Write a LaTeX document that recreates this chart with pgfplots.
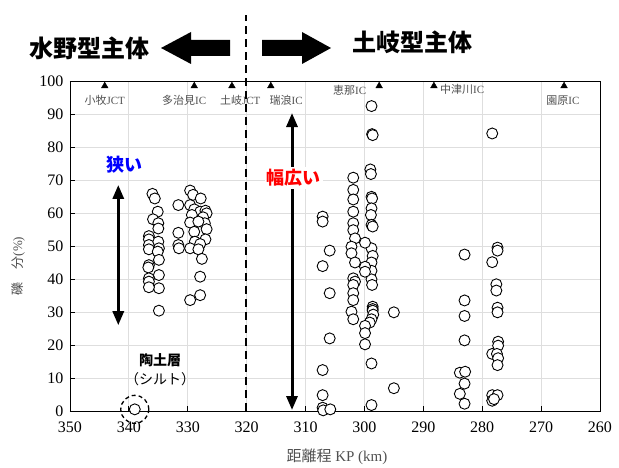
\documentclass[border=0pt]{standalone}
\usepackage{pgfplots}
\pgfplotsset{compat=1.18}
\usetikzlibrary{arrows.meta}
\usepackage{fontspec}
\setmainfont{Liberation Serif}
\newfontfamily\cjk{Noto Sans CJK JP}
\definecolor{lblgray}{RGB}{80,80,80}
\begin{document}
\begin{tikzpicture}
\path[use as bounding box] (0,0) rectangle (619pt,468pt);
\begin{axis}[at={(70pt,57pt)}, anchor=south west, scale only axis,
  width=530pt, height=330pt,
  xmin=260, xmax=350, x dir=reverse, ymin=0, ymax=100,
  xtick={260,270,...,350}, ytick={0,10,...,100},
  grid=major, major grid style={draw=black!13, line width=0.9pt},
  axis line style={line width=0.9pt},
  tick align=inside, xtick pos=bottom, ytick pos=left,
  major tick length=5pt, tick style={black, line width=0.8pt},
  ticklabel style={font=\fontsize{16}{16}\selectfont},
  xticklabel style={yshift=-7pt},
  yticklabel style={xshift=-3pt},
  /pgf/number format/assume math mode=true,
  clip=false]
\addplot[only marks, mark=*, mark size=5.5pt, mark options={fill=white, draw=black, line width=0.9pt}] table {
x y
336.0 65.8
335.6 64.4
335.1 60.4
335.9 58.1
335.0 56.9
335.0 55.3
336.6 53.0
336.6 52.0
336.6 50.3
336.6 49.0
335.0 51.3
334.9 49.3
335.1 48.3
334.9 45.8
336.6 44.2
336.7 43.5
334.9 41.2
336.6 40.2
336.6 39.2
334.9 37.2
336.6 37.5
334.9 30.4
329.6 66.8
329.1 65.5
327.8 64.4
331.6 62.4
329.6 62.4
328.9 61.1
327.9 60.4
327.0 60.7
326.8 59.9
329.3 59.4
327.4 58.7
329.6 57.1
327.1 56.9
328.2 57.4
326.8 55.1
328.9 54.3
331.6 54.0
327.0 52.0
328.8 51.3
327.9 50.6
331.6 50.3
331.5 49.3
329.6 49.3
328.2 49.0
327.6 46.1
327.9 40.7
327.9 35.1
329.6 33.6
307.1 58.9
307.1 57.4
305.9 48.6
307.1 43.9
305.9 35.7
305.9 22.0
307.1 12.4
307.1 4.8
307.1 1.0
307.0 0.2
305.8 0.5
301.9 70.7
301.9 67.0
301.9 64.1
301.9 60.4
301.9 56.9
301.9 54.8
301.6 52.3
302.2 49.8
302.2 47.8
301.6 45.0
301.9 40.2
301.6 39.2
301.9 38.2
301.9 35.7
301.9 33.6
302.2 30.1
301.9 27.8
298.8 92.4
298.7 83.9
298.6 83.6
299.0 73.2
298.9 71.8
298.8 64.9
298.7 64.4
298.8 61.4
298.9 59.4
298.8 56.4
298.6 55.9
298.8 49.3
298.6 47.0
298.8 45.0
298.8 42.5
298.8 39.9
298.7 38.2
298.6 31.6
298.6 30.9
298.6 30.4
298.5 29.2
298.8 27.8
299.1 26.8
299.9 25.8
299.9 23.6
299.9 20.2
298.8 14.4
298.8 1.8
299.9 51.0
299.9 43.7
299.9 42.2
295.0 29.9
295.0 6.9
283.0 47.4
283.0 33.5
283.0 28.8
283.0 21.4
283.8 11.6
282.9 11.9
283.0 8.3
283.8 5.2
283.0 2.2
278.3 84.1
277.4 49.5
277.4 48.6
278.3 45.1
277.6 38.4
277.6 36.5
277.4 31.3
277.4 29.9
277.3 21.0
277.3 19.8
278.3 17.3
277.5 17.3
277.3 16.0
277.4 13.9
278.3 4.8
277.4 4.8
278.3 3.1
278.0 3.6
339.0 0.5
};
\addplot[only marks, mark=triangle*, mark size=3.8pt, black] coordinates {
(344.1,98.5) (328.9,98.5) (322.5,98.5) (315.9,98.5) (297.5,98.5) (288.2,98.5) (266.1,98.5)};
\begin{scope}[every node/.style={text=lblgray, font=\fontsize{11}{11}\selectfont, inner sep=1pt}]
\node at (axis cs:344.1,94) {{\cjk 小牧}JCT};
\node at (axis cs:330.6,94) {{\cjk 多治見}IC};
\node at (axis cs:321.1,94) {{\cjk 土岐}JCT};
\node at (axis cs:313.3,94) {{\cjk 瑞浪}IC};
\node at (axis cs:302.5,97.3) {{\cjk 恵那}IC};
\node at (axis cs:283.4,97.6) {{\cjk 中津川}IC};
\node at (axis cs:266.3,94) {{\cjk 園原}IC};
\end{scope}
\draw[dashed, line width=1.3pt, dash pattern=on 4pt off 3pt] (axis cs:339,0.5) circle[radius=14pt];
\node[font=\cjk\bfseries\fontsize{14}{14}\selectfont] at (axis cs:334.7,15.5) {陶土層};
\node[font=\cjk\fontsize{14}{14}\selectfont] at (axis cs:334.7,9.5) {（シルト）};
\draw[line width=3pt, {Triangle[width=11pt,length=14pt]}-{Triangle[width=11pt,length=14pt]}] (axis cs:341.8,68.5) -- (axis cs:341.8,26);
\node[font=\cjk\bfseries\fontsize{18}{18}\selectfont, text={rgb,255:red,0;green,0;blue,255}] at (axis cs:340.8,74.5) {狭い};
\draw[line width=3pt, {Triangle[width=11pt,length=14pt]}-{Triangle[width=11pt,length=14pt]}] (axis cs:312.3,90.3) -- (axis cs:312.3,0.3);
\node[fill=white, inner sep=2pt, font=\cjk\bfseries\fontsize{18}{18}\selectfont, text={rgb,255:red,255;green,0;blue,0}] at (axis cs:312.0,70.6) {幅広い};
\end{axis}
\begin{scope}[x=1pt, y=-1pt, yshift=468pt]
\draw[line width=2.6pt, dash pattern=on 8pt off 5pt] (246,411) -- (246,15);
\fill (161,48) -- (191,32) -- (191,40) -- (230,40) -- (230,56) -- (191,56) -- (191,64) -- cycle;
\fill (262,40) -- (302,40) -- (302,32) -- (331,48) -- (302,64) -- (302,56) -- (262,56) -- cycle;
\node[font=\cjk\bfseries\fontsize{24}{24}\selectfont] at (90,48) {水野型主体};
\node[font=\cjk\bfseries\fontsize{24}{24}\selectfont] at (412,42) {土岐型主体};
\node[rotate=90, text=lblgray, font=\fontsize{13}{13}\selectfont] at (18,266) {{\cjk 礫　分}(\%)};
\node[text=lblgray, font=\fontsize{15}{15}\selectfont] at (337,457) {{\cjk 距離程} KP (km)};
\end{scope}
\end{tikzpicture}
\end{document}
